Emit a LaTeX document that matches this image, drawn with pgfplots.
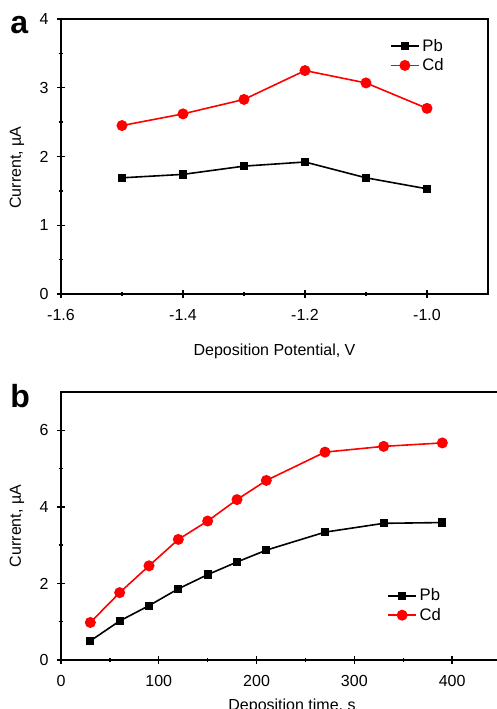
\documentclass[border=0pt]{standalone}
\usepackage{fontspec}
\setmainfont{Liberation Sans}
\usepackage{pgfplots}
\pgfplotsset{compat=1.18}

\pgfplotsset{
  panel/.style={
    scale only axis,
    axis line style={line width=1.2pt},
    tick align=center,
    major tick length=5.5pt,
    minor tick length=3.5pt,
    every tick/.style={line width=1pt, black},
    xtick pos=bottom, ytick pos=left,
    minor x tick num=1, minor y tick num=1,
    ticklabel style={font=\fontsize{12}{14}\selectfont},
    xticklabel style={yshift=-5pt},
    yticklabel style={xshift=-3pt},
    label style={font=\fontsize{12}{14}\selectfont},
    /pgf/number format/assume math mode=true,
    legend style={draw=none, fill=none, inner sep=0pt, row sep=0pt,
                  font=\fontsize{12.5}{14}\selectfont},
    legend cell align=left,
    legend image code/.code={\draw[#1, mark repeat=2, mark phase=2]
        plot coordinates {(0cm,0cm) (0.37cm,0cm) (0.74cm,0cm)};},
  },
  pb/.style={black, line width=1.2pt, mark=square*, mark size=2.5pt},
  cd/.style={red, line width=1.2pt, mark=*, mark size=3.5pt},
}

\begin{document}
\begin{tikzpicture}
% panel a
\begin{axis}[panel,
    at={(45.75pt,-220.5pt)}, anchor=south west,
    width=320.25pt, height=206.25pt,
    xmin=-1.6, xmax=-0.9, ymin=0, ymax=4,
    xtick={-1.6,-1.4,-1.2,-1.0}, ytick={0,1,2,3,4},
    xticklabel style={/pgf/number format/.cd, fixed, fixed zerofill, precision=1},
    xlabel={Deposition Potential, V},
    ylabel={Current, µA},
    xlabel style={at={(axis description cs:0.5,0)}, anchor=north, yshift=-34pt},
    ylabel style={at={(axis description cs:-0.103,0.46)}, anchor=center},
    legend style={at={(0.77,0.938)}, anchor=north west},
  ]
  \addplot[pb] coordinates {
    (-1.5, 1.69) (-1.4, 1.74) (-1.3, 1.86) (-1.2, 1.92) (-1.1, 1.69) (-1.0, 1.53)
  };
  \addlegendentry{Pb}
  \addplot[cd] coordinates {
    (-1.5, 2.45) (-1.4, 2.62) (-1.3, 2.83) (-1.2, 3.25) (-1.1, 3.07) (-1.0, 2.70)
  };
  \addlegendentry{Cd}
\end{axis}

% panel b
\begin{axis}[panel,
    at={(45.75pt,-495pt)}, anchor=south west,
    width=330pt, height=201pt,
    xmin=0, xmax=450, ymin=0, ymax=7,
    xtick={0,100,200,300,400}, ytick={0,2,4,6},
    xlabel={Deposition time, s},
    ylabel={Current, µA},
    xlabel style={at={(axis description cs:0.525,0)}, anchor=north, yshift=-26pt},
    ylabel style={at={(axis description cs:-0.1,0.5)}, anchor=center},
    legend style={at={(0.741,0.13)}, anchor=south west},
  ]
  \addplot[pb] coordinates {
    (30, 0.50) (60, 1.02) (90, 1.42) (120, 1.86) (150, 2.23)
    (180, 2.56) (210, 2.87) (270, 3.34) (330, 3.57) (390, 3.59)
  };
  \addlegendentry{Pb}
  \addplot[cd] coordinates {
    (30, 0.98) (60, 1.76) (90, 2.46) (120, 3.15) (150, 3.63)
    (180, 4.19) (210, 4.69) (270, 5.43) (330, 5.58) (390, 5.67)
  };
  \addlegendentry{Cd}
\end{axis}

\node[anchor=base west, inner sep=0pt] at (7.5pt,-25pt)
  {\fontsize{24}{24}\selectfont\bfseries a};
\node[anchor=base west, inner sep=0pt] at (7.5pt,-305.25pt)
  {\fontsize{24}{24}\selectfont\bfseries b};

\pgfresetboundingbox
\useasboundingbox (0pt,0pt) rectangle (372pt,-531.75pt);
\end{tikzpicture}
\end{document}
